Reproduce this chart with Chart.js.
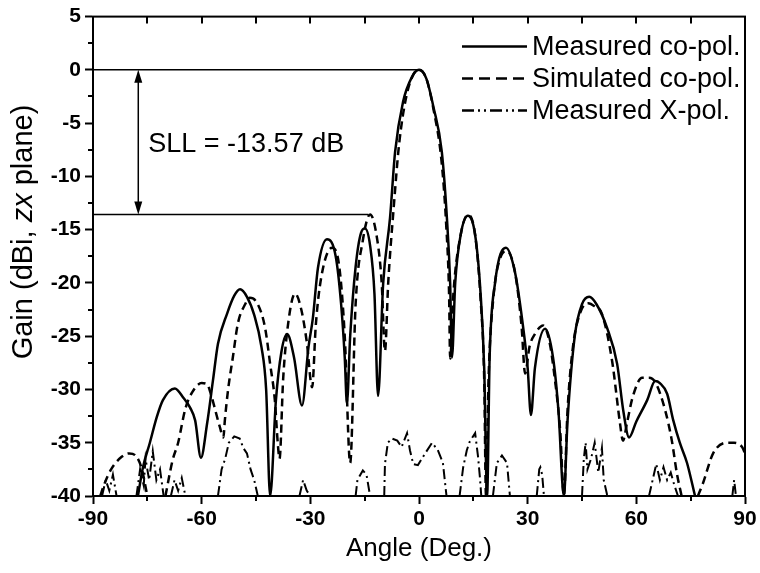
<!DOCTYPE html>
<html>
<head>
<meta charset="utf-8">
<script src="https://cdn.jsdelivr.net/npm/chart.js@4/dist/chart.umd.min.js"></script>
<style>
  html, body { margin: 0; padding: 0; background: #fff; }
  canvas { display: block; }
</style>
</head>
<body>
<canvas id="gainChart" width="760" height="573"></canvas>
<script>
'use strict';

// measured co-pol (solid)
const measAngle = [-77.6, -76.2, -74.3, -72.4, -70.7, -67.4, -65, -63.2, -61.8, -60.2,
  -58.5, -56.9, -55.5, -53, -51, -49.4, -47.5, -45.5, -43.5, -42.2,
  -41.1, -39.5, -38, -36.4, -34.5, -32.3, -30.5, -29.3, -27.9, -25.4,
  -23, -21.5, -20.5, -19.9, -19, -17.5, -16, -14.9, -13.5, -12.3,
  -11.3, -9.9, -8, -6.6, -4.4, -2, 0, 2, 4, 6.3,
  7.7, 8.6, 9.1, 10, 11.5, 13.5, 15.5, 17, 18, 18.8,
  19.5, 21, 24, 26.5, 28.5, 30, 30.9, 32, 34.8, 37,
  38.5, 40, 41, 43, 45, 47, 49, 51.9, 54.7, 56.4,
  58, 60, 63, 65.2, 66.5, 68.5, 70.2, 72, 74, 76.2];
const measGain = [-40, -37.3, -35, -32.6, -31, -29.9, -30.8, -31.7, -32.9, -36.4,
  -33.2, -29.2, -25.7, -22.9, -21.2, -20.6, -21.3, -23, -26, -30,
  -40, -31, -26.5, -24.8, -27, -31.5, -26, -23.3, -18.6, -15.9,
  -17.5, -22, -27, -31.3, -25, -18.5, -15.3, -14.9, -16.5, -21,
  -30.6, -20.1, -13.9, -7.7, -3, -0.7, 0, -0.8, -3.5, -7.7,
  -13.9, -20, -27, -20, -15.5, -13.7, -15.5, -21, -28, -40,
  -27, -20, -16.7, -19, -23.5, -28, -32.4, -28, -24.3, -27,
  -32, -40, -33, -25, -22, -21.3, -22, -24.2, -27.6, -32,
  -34.5, -33, -31, -29.2, -29.4, -30.4, -32.9, -35, -36.9, -40];

// simulated co-pol (dashed)
const simAngle = [-88, -87, -85, -82, -80, -78, -76.5, -75, -72.5, -70,
  -68, -66.5, -64.5, -62.5, -60, -58.5, -57.5, -55, -54, -53.6,
  -52.7, -51.4, -50, -48, -46.7, -44.5, -42.5, -41.1, -39.8, -39,
  -38.5, -37.5, -36, -34.2, -32.5, -31, -29.5, -28.5, -27, -24,
  -22, -20.5, -19, -17.5, -15.5, -13.5, -11.5, -10.3, -9.4, -8.5,
  -7, -5.5, -3.5, -1.5, 0, 2, 4, 6.2, 7.5, 8.3,
  8.6, 9.5, 11.5, 13.5, 15.5, 17, 18, 18.5, 19.2, 20.5,
  22.5, 24.3, 26.5, 28.3, 29.3, 30.5, 32, 34.3, 36, 37.5,
  39, 40, 41, 42.5, 44.5, 46.7, 48.5, 50.5, 53.3, 55.5,
  56.3, 57.5, 59, 61.6, 63.5, 65.2, 68, 69.8, 71.2, 72.5,
  75, 77, 78.4, 81.2, 85, 87, 89.2, 90];
const simGain = [-40, -39, -37.5, -36.3, -36, -36.3, -37.5, -40, null, -40,
  -36.6, -35, -31.8, -30.2, -29.4, -29.5, -30.4, -33.5, -34.5, -32.9,
  -30, -27, -23.8, -22, -21.4, -22, -24.2, -27.6, -31, -35,
  -36.5, -29, -23.5, -21, -22.5, -25.5, -29.8, -24, -19.5, -16.7,
  -18.5, -25, -36.9, -22, -16, -13.57, -16, -20, -26.4, -20,
  -13, -7, -2.5, -0.4, 0, -0.8, -3.7, -8.5, -14.5, -21,
  -27.1, -21, -15.5, -13.6, -15.5, -21.5, -29, -40, -29, -21.5,
  -17.6, -17, -19, -24, -28.5, -26, -24.8, -24, -25.5, -29,
  -34, -40, -32, -26, -22.8, -21.9, -22.2, -22.9, -27.3, -33.2,
  -34.8, -33, -30.7, -28.9, -28.9, -29.3, -32, -34.8, -37.9, -40,
  null, -40, -38.8, -36, -35, -35, -35.4, -36];

// measured X-pol (dash-dot), null = gap under the floor
const xpolAngle = [-87.5, -86.5, -85.5, -84.5, -83.5, -82,
  -78, -77, -76, -75.5, -74.5, -73.5, -72.5, -71.5, -70.5, -70,
  -68.5, -67.5, -66.5, -65.5, -64.5, -60,
  -55.5, -54.5, -53.5, -52.5, -51, -49.5, -48.5, -47.5, -46.5, -45.5, -44.5, -40,
  -33, -32, -31, -30, -25,
  -17.5, -17, -15.5, -14.5, -13.5, -11,
  -9.6, -9.4, -8.6, -7.5, -6, -4.8, -3.3, -2.5, -1.6, -0.3, 1.7, 3.6, 5.2, 6.6, 7.4, 7.6, 9,
  11.2, 12.2, 13.2, 14, 15.5, 16.3, 16.8, 17.2, 19,
  20.4, 21.5, 22.9, 24.3, 25.1, 28,
  32.5, 33.2, 33.5, 34, 34.5, 40,
  45, 45.5, 46, 46.5, 47.5, 48.5, 49.5, 50.5, 51, 52, 58,
  63.5, 64.5, 65.5, 66.5, 67.5, 68.5, 69.5, 70.5, 71.5, 80,
  86.5, 87, 87.5];
const xpolGain = [-40, -38.5, -39.5, -38, -40, null,
  -40, -37.5, -39, -36.5, -38.5, -35.8, -38.5, -37.5, -40, null,
  -40, -38.5, -39.5, -38.3, -40, null,
  -40, -37.5, -36.5, -35, -34.4, -34.6, -35.5, -36, -37.5, -38.5, -40, null,
  -40, -38.5, -39.5, -40, null,
  -40, -38.5, -37.6, -38, -40, null,
  -40, -37, -35, -34.6, -34.8, -35.4, -34.1, -35.7, -37, -37.1, -36, -35, -35.7, -36.9, -39.4, -40, null,
  -40, -37.3, -35.7, -34.9, -34.1, -36.3, -38.2, -40, null,
  -40, -36.9, -36.2, -36.9, -40, null,
  -40, -37.5, -37.3, -38, -40, null,
  -40, -36.5, -35, -37.5, -36.5, -35, -37.8, -35.5, -38.5, -40, null,
  -40, -38.5, -37, -38.5, -37.3, -38.5, -37.8, -39, -40, null,
  -40, -38.5, -40];

const seriesNames = ['Measured co-pol.', 'Simulated co-pol.', 'Measured X-pol.'];

const sllValue = -13.57;
const sllEndAngle = -14;
const arrowAngle = -77.5;

const FONT = '"Liberation Sans", Arial, Helvetica, sans-serif';
Chart.defaults.font.family = FONT;
Chart.defaults.color = '#000';

const toPoints = (xs, ys) => xs.map((x, i) => ({ x: x, y: ys[i] }));

const dashSolid = [];
const dashSim = [8, 5];
const dashXpol = [10, 4, 2, 4];
const legendDash = [[], [11, 6], [12, 4, 2, 4, 2, 4]];

function arrowHead(ctx, x, y, dir) {
  ctx.beginPath();
  ctx.moveTo(x, y);
  ctx.lineTo(x - 4, y + dir * 13);
  ctx.lineTo(x + 4, y + dir * 13);
  ctx.closePath();
  ctx.fill();
}

const decorPlugin = {
  id: 'decor',
  afterDraw(chart) {
    const { ctx, chartArea: a, scales: { x, y } } = chart;
    ctx.save();
    ctx.strokeStyle = '#000';
    ctx.fillStyle = '#000';

    // frame
    ctx.lineWidth = 2;
    ctx.strokeRect(a.left, a.top, a.right - a.left, a.bottom - a.top);

    // minor ticks left + bottom (outward), ticks on top (inward)
    ctx.beginPath();
    for (let v = -37.5; v < 5; v += 5) {
      const py = Math.round(y.getPixelForValue(v));
      ctx.moveTo(a.left, py); ctx.lineTo(a.left - 5, py);
    }
    for (let v = -75; v <= 75; v += 30) {
      const px = Math.round(x.getPixelForValue(v));
      ctx.moveTo(px, a.bottom); ctx.lineTo(px, a.bottom + 5);
    }
    for (let v = -75; v <= 75; v += 15) {
      const px = Math.round(x.getPixelForValue(v));
      ctx.moveTo(px, a.top); ctx.lineTo(px, a.top + 7);
    }
    ctx.stroke();

    // SLL annotation
    const x0 = x.getPixelForValue(-90);
    const y0 = y.getPixelForValue(0);
    const ySll = y.getPixelForValue(sllValue);
    const xArrow = x.getPixelForValue(arrowAngle);
    ctx.lineWidth = 1.5;
    ctx.beginPath();
    ctx.moveTo(x0, y0); ctx.lineTo(x.getPixelForValue(0), y0);
    ctx.moveTo(x0, ySll); ctx.lineTo(x.getPixelForValue(sllEndAngle), ySll);
    ctx.moveTo(xArrow, y0 + 6); ctx.lineTo(xArrow, ySll - 6);
    ctx.stroke();
    arrowHead(ctx, xArrow, y0, 1);
    arrowHead(ctx, xArrow, ySll, -1);
    ctx.font = '27px ' + FONT;
    ctx.textAlign = 'left';
    ctx.textBaseline = 'middle';
    ctx.fillText('SLL = ' + sllValue.toFixed(2) + ' dB', xArrow + 10, (y0 + ySll) / 2 + 2);

    // legend
    ctx.font = '27px ' + FONT;
    ctx.lineWidth = 2.5;
    seriesNames.forEach((name, i) => {
      const ly = a.top + 30 + i * 32;
      ctx.setLineDash(legendDash[i]);
      ctx.beginPath();
      ctx.moveTo(a.right - 283, ly);
      ctx.lineTo(a.right - 218, ly);
      ctx.stroke();
      ctx.setLineDash([]);
      ctx.fillText(name, a.right - 213, ly + 1);
    });

    // axis titles
    ctx.font = '26px ' + FONT;
    ctx.textAlign = 'center';
    ctx.fillText('Angle (Deg.)', (a.left + a.right) / 2, 549);

    const parts = [
      ['Gain (dBi, ', '29px ' + FONT],
      ['zx', 'italic 29px ' + FONT],
      [' plane)', '29px ' + FONT]
    ];
    let total = 0;
    parts.forEach(p => { ctx.font = p[1]; total += ctx.measureText(p[0]).width; });
    ctx.translate(24, 232);
    ctx.rotate(-Math.PI / 2);
    ctx.textAlign = 'left';
    let cx = -total / 2;
    parts.forEach(p => {
      ctx.font = p[1];
      ctx.fillText(p[0], cx, 0);
      cx += ctx.measureText(p[0]).width;
    });
    ctx.restore();
  }
};

const ctx = document.getElementById('gainChart').getContext('2d');

const chart = new Chart(ctx, {
  type: 'line',
  data: {
    datasets: [
      {
        label: seriesNames[0],
        data: toPoints(measAngle, measGain),
        borderColor: '#000',
        borderWidth: 2.5,
        borderDash: dashSolid,
        cubicInterpolationMode: 'monotone',
        pointRadius: 0
      },
      {
        label: seriesNames[1],
        data: toPoints(simAngle, simGain),
        borderColor: '#000',
        borderWidth: 2.5,
        borderDash: dashSim,
        cubicInterpolationMode: 'monotone',
        pointRadius: 0
      },
      {
        label: seriesNames[2],
        data: toPoints(xpolAngle, xpolGain),
        borderColor: '#000',
        borderWidth: 2,
        borderDash: dashXpol,
        tension: 0,
        pointRadius: 0
      }
    ]
  },
  options: {
    responsive: false,
    animation: false,
    devicePixelRatio: 1,
    spanGaps: false,
    layout: {
      padding: { top: 14, right: 15, left: 0, bottom: 0 }
    },
    plugins: {
      legend: { display: false },
      tooltip: { enabled: false }
    },
    scales: {
      x: {
        type: 'linear',
        min: -90,
        max: 90,
        ticks: {
          stepSize: 30,
          padding: 3,
          font: { size: 21, weight: 'bold' },
          color: '#000'
        },
        grid: {
          drawOnChartArea: false,
          tickLength: 8,
          tickWidth: 2,
          tickColor: '#000'
        },
        border: { color: '#000', width: 2 },
        afterFit: (s) => { s.height = 77; }
      },
      y: {
        min: -40,
        max: 5,
        ticks: {
          stepSize: 5,
          padding: 4,
          font: { size: 21, weight: 'bold' },
          color: '#000'
        },
        grid: {
          drawOnChartArea: false,
          tickLength: 8,
          tickWidth: 2,
          tickColor: '#000'
        },
        border: { color: '#000', width: 2 },
        afterFit: (s) => { s.width = 93; }
      }
    }
  },
  plugins: [decorPlugin]
});
</script>
</body>
</html>
